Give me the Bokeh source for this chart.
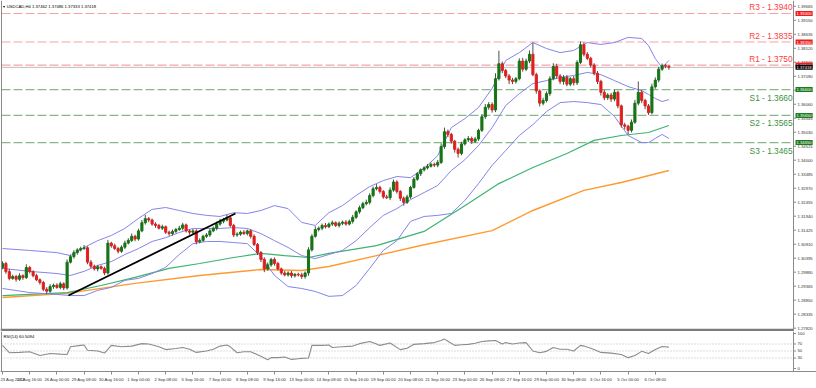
from bokeh.plotting import figure
from bokeh.models import Range1d, FixedTicker, Label, Span, ColumnDataSource
from bokeh.layouts import column
from bokeh.embed import file_html
from bokeh.resources import INLINE
from bokeh.core.properties import value

# ---------------- data ----------------
symbol_title = "USDCAD,H4  1.37462 1.37486 1.37333 1.37418"
rsi_title = "RSI(14) 60.5094"

first_open = 1.3005
closes = [
    1.3020, 1.2990, 1.2965, 1.2972, 1.2962, 1.2975, 1.2968, 1.3005, 1.2990, 1.2975,
    1.2960, 1.2950, 1.2925, 1.2918, 1.2935, 1.2940, 1.2932, 1.2945, 1.2930, 1.3025,
    1.3045, 1.3060, 1.3070, 1.3075, 1.3078, 1.3025, 1.3010, 1.3000, 1.3008, 1.3002,
    1.2985, 1.3095, 1.3085, 1.3075, 1.3065, 1.3080, 1.3095, 1.3105, 1.3120, 1.3110,
    1.3140, 1.3170, 1.3185, 1.3180, 1.3165, 1.3160, 1.3150, 1.3155, 1.3135, 1.3130,
    1.3138, 1.3145, 1.3150, 1.3162, 1.3140, 1.3135, 1.3140, 1.3100, 1.3105, 1.3120,
    1.3125, 1.3140, 1.3150, 1.3165, 1.3175, 1.3180, 1.3188, 1.3160, 1.3125, 1.3128,
    1.3135, 1.3130, 1.3140, 1.3120, 1.3090, 1.3060, 1.3035, 1.3000, 1.3015, 1.3035,
    1.3020, 1.3000, 1.2985, 1.2978, 1.2985, 1.2975, 1.2980, 1.2978, 1.2972, 1.2985,
    1.3070, 1.3120, 1.3145, 1.3150, 1.3160, 1.3155, 1.3165, 1.3170, 1.3160, 1.3168,
    1.3172, 1.3165, 1.3175, 1.3190, 1.3210, 1.3225, 1.3240, 1.3245, 1.3270, 1.3295,
    1.3300, 1.3285, 1.3265, 1.3262, 1.3290, 1.3320, 1.3285, 1.3260, 1.3245, 1.3265,
    1.3300, 1.3330, 1.3350, 1.3365, 1.3372, 1.3378, 1.3385, 1.3382, 1.3392, 1.3450,
    1.3505, 1.3495, 1.3470, 1.3440, 1.3425, 1.3460, 1.3475, 1.3480, 1.3470, 1.3478,
    1.3510, 1.3560, 1.3595, 1.3605, 1.3585, 1.3700, 1.3755, 1.3730, 1.3710, 1.3695,
    1.3690, 1.3700, 1.3765, 1.3735, 1.3765, 1.3790, 1.3715, 1.3655, 1.3610, 1.3620,
    1.3645, 1.3700, 1.3745, 1.3710, 1.3690, 1.3705, 1.3680, 1.3700, 1.3685, 1.3760,
    1.3825, 1.3790, 1.3775, 1.3750, 1.3720, 1.3690, 1.3650, 1.3630, 1.3640, 1.3625,
    1.3650, 1.3600, 1.3530, 1.3525, 1.3510, 1.3540, 1.3610, 1.3650, 1.3620, 1.3600,
    1.3575, 1.3670, 1.3695, 1.3735, 1.3748, 1.3746, 1.3742,
]
up_wick_pips = [
    8, 6, 10, 7, 6, 9, 5, 12, 6, 5, 7, 5, 6, 8, 9, 6, 7, 8, 6, 10,
    8, 9, 6, 7, 10, 5, 8, 6, 7, 5, 6, 12, 5, 8, 6, 7, 9, 8, 10, 6,
    8, 10, 14, 6, 5, 7, 6, 8, 5, 6, 7, 6, 9, 8, 5, 6, 7, 6, 8, 6,
    7, 8, 6, 9, 10, 8, 12, 5, 6, 7, 6, 8, 5, 6, 7, 5, 6, 8, 9, 6,
    7, 6, 5, 8, 6, 7, 5, 6, 8, 6, 10, 8, 12, 6, 7, 9, 6, 8, 5, 7,
    6, 8, 7, 9, 6, 8, 7, 10, 9, 8, 12, 6, 5, 8, 10, 9, 6, 5, 7, 8,
    6, 8, 7, 5, 6, 8, 7, 6, 9, 12, 15, 8, 6, 5, 7, 8, 6, 9, 7, 8,
    6, 10, 12, 9, 8, 20, 48, 8, 6, 7, 8, 6, 10, 12, 9, 14, 42, 7, 6, 10,
    8, 9, 12, 10, 7, 8, 9, 6, 10, 8, 12, 9, 8, 6, 7, 8, 6, 9, 7, 8,
    10, 6, 5, 8, 6, 10, 12, 40, 8, 6, 7, 12, 10, 9, 8, 6, 3,
]
down_wick_pips = [
    6, 8, 7, 5, 9, 6, 8, 5, 7, 6, 5, 8, 7, 10, 6, 8, 5, 7, 8, 6,
    5, 7, 8, 6, 5, 8, 7, 6, 9, 5, 8, 6, 7, 5, 8, 6, 7, 5, 6, 8,
    6, 5, 7, 8, 6, 9, 5, 7, 6, 8, 7, 6, 5, 8, 6, 9, 7, 10, 6, 5,
    6, 7, 5, 8, 6, 7, 5, 6, 8, 7, 6, 5, 7, 8, 6, 9, 10, 12, 6, 7,
    8, 6, 7, 5, 6, 8, 7, 6, 9, 8, 10, 6, 5, 7, 8, 6, 5, 7, 6, 8,
    7, 6, 5, 8, 6, 7, 5, 6, 8, 7, 6, 8, 7, 5, 9, 6, 8, 10, 12, 6,
    7, 5, 6, 8, 7, 6, 5, 7, 8, 6, 8, 10, 9, 12, 15, 7, 6, 8, 10, 6,
    7, 6, 8, 9, 10, 8, 7, 9, 8, 15, 10, 8, 6, 9, 7, 8, 6, 10, 12, 8,
    7, 8, 6, 9, 10, 12, 8, 7, 10, 8, 6, 8, 7, 9, 8, 10, 12, 9, 8, 10,
    8, 9, 10, 12, 15, 8, 6, 8, 10, 12, 8, 6, 7, 8, 6, 7, 9,
]

# Bollinger bands (20, 2) read at sample bars
bb_bars = [0, 8, 16, 20, 24, 28, 32, 36, 40, 44, 48, 52, 56, 60, 64, 68, 72, 76, 80, 84,
           88, 92, 96, 100, 104, 108, 112, 116, 120, 124, 128, 132, 136, 140, 144, 148,
           152, 156, 160, 164, 168, 172, 176, 180, 184, 188, 190, 192, 194, 196]
bb_upper = [1.3075, 1.3068, 1.3060, 1.3049, 1.3079, 1.3104, 1.3123, 1.3149, 1.3186, 1.3219,
            1.3226, 1.3215, 1.3204, 1.3197, 1.3193, 1.3207, 1.3204, 1.3215, 1.3233, 1.3222,
            1.3171, 1.3160, 1.3207, 1.3233, 1.3270, 1.3303, 1.3325, 1.3340, 1.3336, 1.3370,
            1.3417, 1.3520, 1.3553, 1.3594, 1.3664, 1.3767, 1.3796, 1.3833, 1.3811, 1.3796,
            1.3804, 1.3833, 1.3826, 1.3833, 1.3852, 1.3848, 1.3822, 1.3774, 1.3741, 1.3767]
bb_middle = [1.3002, 1.2991, 1.2983, 1.2976, 1.2991, 1.3013, 1.3027, 1.3053, 1.3075, 1.3101,
             1.3115, 1.3134, 1.3149, 1.3149, 1.3149, 1.3152, 1.3149, 1.3130, 1.3104, 1.3079,
             1.3049, 1.3038, 1.3053, 1.3068, 1.3104, 1.3152, 1.3197, 1.3222, 1.3255, 1.3281,
             1.3307, 1.3362, 1.3402, 1.3454, 1.3520, 1.3601, 1.3645, 1.3682, 1.3693, 1.3704,
             1.3712, 1.3723, 1.3715, 1.3693, 1.3671, 1.3656, 1.3642, 1.3627, 1.3616, 1.3623]
bb_lower = [1.2928, 1.2913, 1.2906, 1.2902, 1.2902, 1.2921, 1.2932, 1.2958, 1.2965, 1.2983,
            1.3006, 1.3053, 1.3093, 1.3101, 1.3101, 1.3097, 1.3093, 1.3046, 1.2976, 1.2935,
            1.2928, 1.2917, 1.2899, 1.2902, 1.2939, 1.3002, 1.3068, 1.3104, 1.3175, 1.3193,
            1.3197, 1.3204, 1.3252, 1.3314, 1.3381, 1.3436, 1.3491, 1.3531, 1.3579, 1.3612,
            1.3616, 1.3612, 1.3605, 1.3561, 1.3491, 1.3465, 1.3465, 1.3480, 1.3495, 1.3480]

# moving averages read at sample bars
ma100_bars = [0, 19, 29, 39, 49, 58, 68, 76, 83, 90, 96, 110, 124, 137, 146, 156, 166, 174, 182, 190, 196]
ma100_vals = [1.2902, 1.2913, 1.2939, 1.2969, 1.3002, 1.3020, 1.3042, 1.3057, 1.3049, 1.3042,
              1.3057, 1.3086, 1.3138, 1.3241, 1.3314, 1.3373, 1.3425, 1.3473, 1.3491, 1.3502, 1.3528]
ma200_bars = [0, 19, 39, 58, 76, 88, 96, 110, 123, 144, 156, 171, 182, 196]
ma200_vals = [1.2895, 1.2910, 1.2947, 1.2976, 1.2998, 1.2994, 1.3009, 1.3049, 1.3086, 1.3141,
              1.3215, 1.3289, 1.3318, 1.3362]

# drawn trend line
trend_bars = [19.4, 68.5]
trend_prices = [1.2902, 1.3204]

# support / resistance
level_names = ["R3", "R2", "R1", "S1", "S2", "S3"]
level_values = [1.3940, 1.3835, 1.3750, 1.3660, 1.3565, 1.3465]
current_price = 1.37418

price_ticks = [1.27820, 1.28335, 1.28850, 1.29365, 1.29880, 1.30395, 1.30910, 1.31425,
               1.31940, 1.32455, 1.32970, 1.33485, 1.34000, 1.34515, 1.35030, 1.35545,
               1.36060, 1.36575, 1.37090, 1.37605, 1.38120, 1.38635, 1.39150, 1.39665]

# RSI read at sample bars
rsi_bars = [0, 2, 5, 8, 11, 14, 17, 19, 20, 23, 24, 25, 28, 30, 32, 35, 38, 41, 43, 46, 48, 51,
            53, 55, 57, 60, 62, 64, 66, 67, 69, 71, 73, 76, 78, 79, 81, 83, 85, 87, 88, 90, 91,
            94, 96, 97, 100, 103, 105, 108, 110, 111, 114, 117, 119, 121, 124, 127, 129, 130,
            131, 133, 135, 137, 139, 141, 143, 145, 147, 148, 150, 152, 154, 156, 158, 160,
            162, 164, 166, 168, 170, 171, 173, 175, 176, 179, 182, 184, 186, 188, 190, 192,
            194, 196]
rsi_vals = [66, 45, 46, 48, 37, 43, 41, 40, 62, 66, 67, 52, 50, 44, 66, 62, 64, 71, 70, 62, 54, 57,
            60, 55, 46, 50, 55, 64, 67, 62, 45, 48, 48, 35, 25, 31, 31, 33, 26, 28, 29, 30, 66,
            66, 67, 60, 62, 64, 71, 77, 70, 66, 73, 54, 58, 69, 71, 74, 80, 84,
            78, 66, 68, 69, 72, 77, 79, 80, 70, 74, 70, 73, 74, 50, 45, 49,
            60, 55, 55, 50, 66, 64, 58, 50, 46, 44, 40, 31, 37, 49, 43, 54,
            63, 61]
rsi_levels = [30, 50, 70]
rsi_ticks = [0, 30, 50, 70, 100]

time_ticks = [0, 8, 16, 24, 32, 40, 48, 56, 64, 72, 80, 88, 96, 104, 112, 120, 128, 136,
              144, 152, 160, 168, 176, 184, 192]
time_labels = ["23 Aug 2022", "24 Aug 16:00", "26 Aug 00:00", "29 Aug 08:00", "30 Aug 16:00",
               "1 Sep 00:00", "2 Sep 08:00", "5 Sep 16:00", "7 Sep 00:00", "8 Sep 08:00",
               "9 Sep 16:00", "13 Sep 00:00", "14 Sep 08:00", "15 Sep 16:00", "19 Sep 00:00",
               "20 Sep 08:00", "21 Sep 16:00", "23 Sep 00:00", "26 Sep 08:00", "27 Sep 16:00",
               "29 Sep 00:00", "30 Sep 08:00", "3 Oct 16:00", "5 Oct 00:00", "6 Oct 08:00"]

# ---------------- build candles ----------------
opens = [first_open] + closes[:-1]
bars = list(range(len(closes)))
highs = [max(o, c) + u * 0.0001 for o, c, u in zip(opens, closes, up_wick_pips)]
lows = [min(o, c) - d * 0.0001 for o, c, d in zip(opens, closes, down_wick_pips)]
BULL = "#167316"
BEAR = "#e01f1f"
colors = [BULL if c >= o else BEAR for o, c in zip(opens, closes)]
src = ColumnDataSource(dict(x=bars, o=opens, c=closes, h=highs, l=lows, col=colors))

# ---------------- layout constants ----------------
FONT = "Liberation Sans"
W = 816
MAIN_H = 331
RSI_H = 57
X0, X1 = -0.59, 239.41          # bar range covering the full width
AXIS_X = 232.65                 # where the price scale starts
LEFT_X = -0.3
Y_TOP, Y_BOT = 1.39878, 1.27697
SEP_Y = 1.27752
R_TOP, R_BOT = 105.7, -8.57
GRAY = "#8a8a8a"
SMALL = "4.2px"

p = figure(width=W, height=MAIN_H, output_backend="svg", toolbar_location=None,
           x_range=Range1d(X0, X1), y_range=Range1d(Y_BOT, Y_TOP),
           x_axis_location=None, y_axis_location=None,
           min_border_left=0, min_border_right=0, min_border_top=0, min_border_bottom=0)
p.grid.visible = False
p.outline_line_color = None

# frame lines
p.add_layout(Span(location=AXIS_X, dimension="height", line_color=GRAY, line_width=1))
p.add_layout(Span(location=LEFT_X, dimension="height", line_color=GRAY, line_width=1))
p.segment(x0=[X0], x1=[AXIS_X], y0=[SEP_Y], y1=[SEP_Y], line_color="#7c7c7c", line_width=2.5)

# price scale
p.segment(x0=AXIS_X, x1=AXIS_X + 0.75, y0=price_ticks, y1=price_ticks, line_color=GRAY, line_width=1)
p.text(x=AXIS_X, y=price_ticks, text=[f"{t:.5f}" for t in price_ticks], x_offset=4,
       text_baseline="middle", text_align="left", text_font=value(FONT),
       text_font_size=SMALL, text_color="#333333")

# levels
for name, v in zip(level_names, level_values):
    is_r = name.startswith("R")
    lc = "#f7a3a3" if is_r else "#8ab88a"
    tc = "#ff3c3c" if is_r else "#3c8f3c"
    p.segment(x0=[LEFT_X], x1=[AXIS_X], y0=[v], y1=[v], line_color=lc, line_width=1.2,
              line_dash="9 3")
    p.add_layout(Label(x=AXIS_X, y=v, x_offset=-1, y_offset=1 if is_r else -3,
                       text=f"{name} - {v:.4f}", text_align="right",
                       text_baseline="bottom" if is_r else "top",
                       text_font=FONT, text_font_size="8.3px", text_color=tc))
p.segment(x0=[LEFT_X], x1=[AXIS_X], y0=[current_price], y1=[current_price],
          line_color="#bcbcc8", line_width=1)

# moving averages
p.line(ma200_bars, ma200_vals, line_color="#ff9a30", line_width=1.4)
p.line(ma100_bars, ma100_vals, line_color="#3cb371", line_width=1.2)
# bollinger
for arr in (bb_upper, bb_middle, bb_lower):
    p.line(bb_bars, arr, line_color="#8484ea", line_width=1)

# candles
p.segment(x0="x", y0="l", x1="x", y1="h", source=src, line_color="#505050", line_width=1)
p.vbar(x="x", width=0.62, top="o", bottom="c", source=src, fill_color="col", line_color="col")

# trend line
p.line(trend_bars, trend_prices, line_color="black", line_width=1.8)

# title
p.add_layout(Label(x=LEFT_X, y=Y_TOP, x_offset=2, y_offset=-3, text="\u25BE " + symbol_title,
                   text_baseline="top", text_font=FONT, text_font_size=SMALL, text_color="#000000"))

# price boxes on the scale
box_specs = [(v, "#f01c1c") for v in level_values[:3]] + [(current_price, "#000000")] + \
            [(v, "#1e7a1e") for v in level_values[3:]]
for v, bg in box_specs:
    p.add_layout(Label(x=AXIS_X, y=v, x_offset=2, text=f"{v:.5f}", text_align="left",
                       text_baseline="middle", text_font=FONT, text_font_size=SMALL,
                       text_color="white", background_fill_color=bg,
                       border_line_color=None, padding=1))

# ---------------- RSI panel ----------------
r = figure(width=W, height=RSI_H, output_backend="svg", toolbar_location=None,
           x_range=p.x_range, y_range=Range1d(R_BOT, R_TOP),
           x_axis_location="below", y_axis_location=None,
           min_border_left=0, min_border_right=0, min_border_top=0, min_border_bottom=17)
r.grid.visible = False
r.outline_line_color = None
r.add_layout(Span(location=AXIS_X, dimension="height", line_color=GRAY, line_width=1))
r.add_layout(Span(location=LEFT_X, dimension="height", line_color=GRAY, line_width=1))
for lv in rsi_levels:
    r.segment(x0=[LEFT_X], x1=[AXIS_X], y0=[lv], y1=[lv], line_color="#b8b8b8", line_width=1,
              line_dash="1 2")
r.line(rsi_bars, rsi_vals, line_color="#8c8c8c", line_width=1.1)
r.add_layout(Label(x=LEFT_X, y=R_TOP, x_offset=2, y_offset=-2, text=rsi_title, text_baseline="top",
                   text_font=FONT, text_font_size=SMALL, text_color="#000000"))
r.segment(x0=AXIS_X, x1=AXIS_X + 0.75, y0=rsi_ticks, y1=rsi_ticks, line_color=GRAY, line_width=1)
r.text(x=AXIS_X, y=rsi_ticks, text=[str(t) for t in rsi_ticks], x_offset=4,
       text_baseline="middle", text_align="left", text_font=value(FONT),
       text_font_size=SMALL, text_color="#333333")
rx = r.xaxis[0]
rx.ticker = FixedTicker(ticks=time_ticks)
rx.major_label_overrides = {t: lab for t, lab in zip(time_ticks, time_labels)}
rx.major_label_text_font_size = SMALL
rx.major_label_text_font = FONT
rx.major_label_text_color = "#333333"
rx.major_label_text_align = "left"
rx.major_label_standoff = 2
rx.major_tick_in = 0
rx.major_tick_out = 3
rx.minor_tick_out = 0
rx.minor_tick_in = 0
rx.axis_line_color = GRAY
rx.major_tick_line_color = GRAY

layout = column(p, r, spacing=0)
open("out.html", "w").write(file_html(layout, INLINE))
